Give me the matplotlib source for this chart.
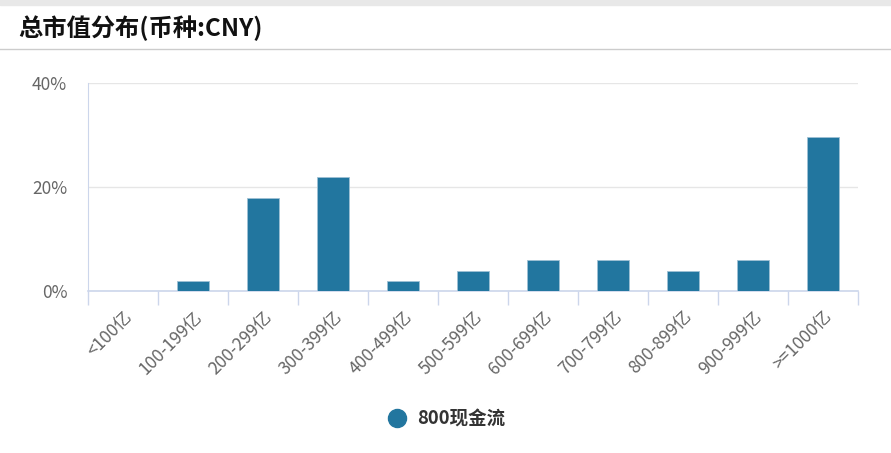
import matplotlib
matplotlib.use('Agg')
import matplotlib.pyplot as plt
from matplotlib.lines import Line2D

plt.rcParams['font.family'] = ['Noto Sans CJK SC', 'DejaVu Sans']

# data
categories = ['<100亿', '100-199亿', '200-299亿', '300-399亿', '400-499亿', '500-599亿',
              '600-699亿', '700-799亿', '800-899亿', '900-999亿', '>=1000亿']
values = [0, 1.9, 17.9, 21.9, 1.9, 3.9, 5.9, 5.9, 3.9, 5.9, 29.6]
series_name = '800现金流'
yticks = [0, 20, 40]
ytick_labels = ['0%', '20%', '40%']

bar_color = '#22769f'
grid_color = '#e6e6e6'
axis_color = '#ccd6eb'
label_color = '#666666'

W, H = 891, 453
fig = plt.figure(figsize=(W / 100, H / 100), dpi=100)

# top grey band and header separator
fig.patches.append(plt.Rectangle((0, 1 - 5 / H), 1, 5 / H, transform=fig.transFigure,
                                 color='#e8e8e8', zorder=0))
fig.add_artist(Line2D([0, 1], [1 - 49 / H, 1 - 49 / H], transform=fig.transFigure,
                      color='#cccccc', lw=1))
fig.text(18 / W, 1 - 28 / H, '总市值分布(币种:CNY)', fontsize=17.5, fontweight='bold',
         color='#111111', va='center', ha='left')

ax = fig.add_axes([88 / W, 1 - 291 / H, (858 - 88) / W, (291 - 83) / H])
x = list(range(len(categories)))
ax.bar(x, values, width=0.47, color=bar_color, edgecolor='#9fc1d4', linewidth=0.6, zorder=3)

ax.set_xlim(-0.5, len(categories) - 0.5)
ax.set_ylim(0, 40)
ax.set_yticks(yticks)
ax.set_yticklabels(ytick_labels)
ax.yaxis.grid(True, color=grid_color, lw=1, zorder=0)
ax.tick_params(axis='y', length=0, pad=15, labelsize=12.5, labelcolor=label_color)

# category boundary ticks
ax.set_xticks([i - 0.5 for i in range(len(categories) + 1)], minor=False)
ax.set_xticklabels([''] * (len(categories) + 1))
ax.tick_params(axis='x', which='major', length=10, color=axis_color, width=1)
ax.set_xticks(x, minor=True)
ax.set_xticklabels(categories, minor=True, rotation=45, ha='right',
                   rotation_mode='anchor', fontsize=12.5, color=label_color)
ax.tick_params(axis='x', which='minor', length=0, pad=12)

for side in ['top', 'right']:
    ax.spines[side].set_visible(False)
ax.spines['left'].set_color(axis_color)
ax.spines['bottom'].set_color(axis_color)
ax.spines['bottom'].set_linewidth(1.2)

# legend
fig.add_artist(Line2D([397 / W], [1 - 418 / H], marker='o', markersize=13, color=bar_color,
                      transform=fig.transFigure, linestyle='none'))
fig.text(417 / W, 1 - 419 / H, series_name, fontsize=13.3, fontweight='bold',
         color='#333333', va='center', ha='left')

fig.savefig('out.png', dpi=100)
